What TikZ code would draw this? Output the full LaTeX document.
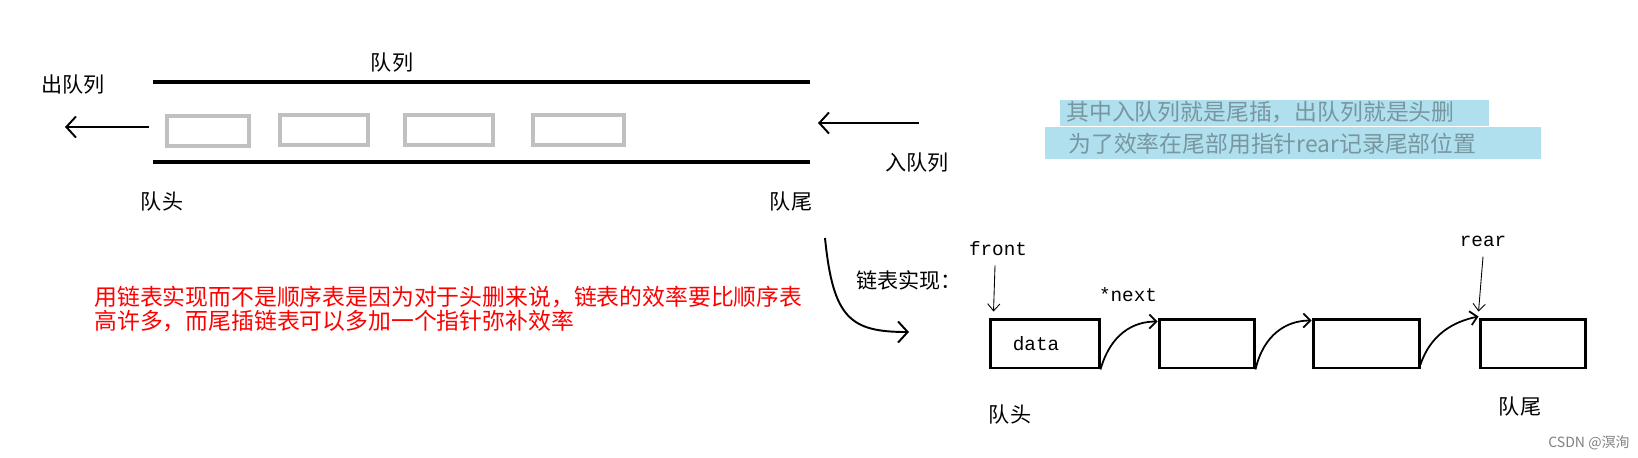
\documentclass[tikz,border=0pt]{standalone}
\usepackage{fontspec}
\newfontfamily\cjk{Noto Sans CJK SC}
\setmonofont{Liberation Mono}
\usetikzlibrary{arrows.meta}

\definecolor{hlblue}{RGB}{176,224,238}
\definecolor{hltext}{RGB}{120,150,160}
\definecolor{slotgray}{RGB}{192,192,192}

\begin{document}
\begin{tikzpicture}[x=0.02cm,y=-0.02cm,
  lbl/.style={font=\fontsize{12}{14}\selectfont\cjk,inner sep=0pt},
  code/.style={font=\fontsize{11}{13}\selectfont\ttfamily,inner sep=0pt},
  slot/.style={draw=slotgray,line width=2.2pt,minimum height=0.6cm,inner sep=0pt},
  cell/.style={draw,line width=1.7pt,minimum height=0.98cm,inner sep=0pt},
  pipe/.style={line width=2.8pt},
  barb/.style={-{Straight Barb[length=5.5pt,width=12pt]},line width=1.1pt},
  link/.style={-{Straight Barb[length=4pt,width=8pt]},line width=1pt},
  ptr/.style={-{Straight Barb[length=4pt,width=7pt]},line width=0.5pt}]
\useasboundingbox (0,0) rectangle (1638,457);
% the queue as a pipe
\draw[pipe](153,82)--(810,82);
\draw[pipe](153,162)--(810,162);
\node[lbl] (queue) at (392,63) {队列};
\node[lbl] (dequeue) at (73,85) {出队列};
\node[lbl] (enqueue) at (917,163) {入队列};
\node[lbl] (head) at (162,202) {队头};
\node[lbl] (tail) at (791,202) {队尾};
\node[slot,minimum width=1.64cm] (s1) at (208,131) {};
\node[slot,minimum width=1.76cm] (s2) at (324,130) {};
\node[slot,minimum width=1.76cm] (s3) at (449,130) {};
\node[slot,minimum width=1.82cm] (s4) at (578.5,130) {};
\coordinate (outstart) at (149,127);
\coordinate (outend) at (65,127);
\coordinate (instart) at (919,123);
\coordinate (inend) at (818,123);
\draw[barb](outstart)--(outend);
\draw[barb](instart)--(inend);
% note
\fill[hlblue](1060,100) rectangle (1489,126);
\fill[hlblue](1045,127) rectangle (1541,159);
\node[font=\fontsize{13}{15}\selectfont\cjk,text=hltext,inner sep=0pt,anchor=west] (note1) at (1066,112) {其中入队列就是尾插，出队列就是头删};
\node[font=\fontsize{13}{15}\selectfont\cjk,text=hltext,inner sep=0pt,anchor=west] (note2) at (1068,144) {为了效率在尾部用指针rear记录尾部位置};
\node[font=\fontsize{13}{13.6}\selectfont\cjk,text=red,inner sep=0pt,anchor=west,align=left] (why) at (94,309) {用链表实现而不是顺序表是因为对于头删来说，链表的效率要比顺序表\\高许多，而尾插链表可以多加一个指针弥补效率};
% linked list
\coordinate (bendtop) at (825,238);
\coordinate (bendend) at (909,332);
\draw[barb](bendtop) .. controls (833,318) and (850,332) .. (bendend);
\node[lbl] (impl) at (909,280) {链表实现：};
\node[cell,minimum width=2.18cm] (b1) at (1044.5,343.5) {};
\node[code] (data) at (1036,344) {data};
\node[cell,minimum width=1.9cm] (b2) at (1206.5,343.5) {};
\node[cell,minimum width=2.12cm] (b3) at (1366,343.5) {};
\node[cell,minimum width=2.1cm] (b4) at (1532.5,343.5) {};
\node[code] (front) at (998,249) {front};
\node[code] (rear) at (1483,241) {rear};
\node[code] (next) at (1128,295) {*next};
\draw[ptr]([xshift=-0.06cm,yshift=-0.18cm]front.south)--([xshift=0.1cm,yshift=0.12cm]b1.north west);
\draw[ptr]([yshift=-0.2cm]rear.south)--([yshift=0.12cm]b4.north west);
\draw[link](b1.south east) .. controls +(10,-35) and +(-25,0) .. ([yshift=-0.08cm]b2.north west);
\draw[link](b2.south east) .. controls +(8,-35) and +(-25,0) .. ([yshift=-0.06cm]b3.north west);
\draw[link]([yshift=0.1cm]b3.south east) .. controls +(10,-30) and +(-25,5) .. ([yshift=0.02cm]b4.north west);
\node[lbl] (listhead) at (1010,415) {队头};
\node[lbl] (listtail) at (1520,407) {队尾};
\node[font=\fontsize{8}{10}\selectfont\cjk,text=gray,inner sep=0pt,anchor=east] (mark) at (1630,443) {CSDN @溟洵};
\end{tikzpicture}
\end{document}
